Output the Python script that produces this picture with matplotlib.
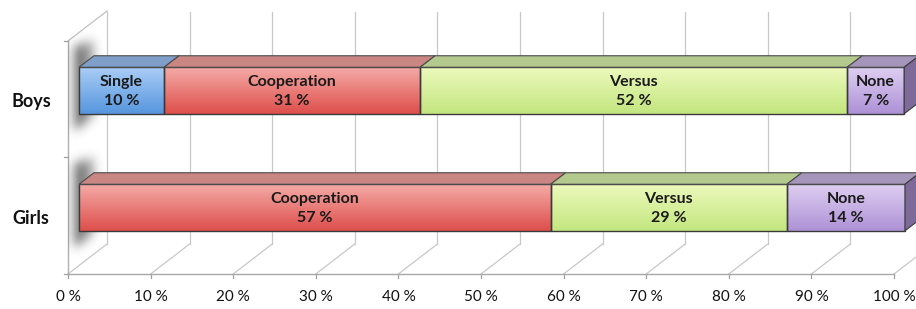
import numpy as np
import matplotlib
matplotlib.use("Agg")
import matplotlib.pyplot as plt
from matplotlib.patches import Polygon
from matplotlib.colors import LinearSegmentedColormap

# data
categories = ['Girls', 'Boys']
series = ['Single', 'Cooperation', 'Versus', 'None']
values = {
    'Boys':  [10.3, 31.0, 51.7, 6.9],
    'Girls': [0.0, 57.1, 28.6, 14.3],
}
xticks = [0, 10, 20, 30, 40, 50, 60, 70, 80, 90, 100]

# colours: (front top, front bottom, top face, side face)
colors = {
    'Single':      ('#aacdf6', '#5696de', '#7f9fca', '#5a7cab'),
    'Cooperation': ('#f4aaa7', '#de4f4b', '#c98682', '#a9504c'),
    'Versus':      ('#ecf9bc', '#c3e67f', '#b4c98d', '#93b35a'),
    'None':        ('#dfcff2', '#ad91d6', '#a595bb', '#7d6a99'),
}

plt.rcParams['font.family'] = ['Lato', 'DejaVu Sans']

W, H = 916, 309
fig = plt.figure(figsize=(W / 100, H / 100), dpi=100)
ax = fig.add_axes([0, 0, 1, 1])

# scale: pixel geometry of the oblique "3D" look
PXX = 8.26     # px per percent
PXY = 117.0    # px per category
x0px, ycpx = 68, 207.5   # pixel of 0 % and of Girls centre
ax.set_xlim(-x0px / PXX, (W - x0px) / PXX)
ax.set_ylim(1 - (H - ycpx) / PXY, 1 + ycpx / PXY)
ax.axis('off')


def dx(p):
    return p / PXX


def dy(p):
    return p / PXY


floor = 1 - dy(274 - ycpx)
wall_top = 1 + dy(ycpx - 41)
depth = (dx(39), dy(30))
grid_col = '#c8c8c8'

# back wall gridlines + floor diagonals
for t in xticks:
    ax.plot([t + depth[0]] * 2, [floor + depth[1], wall_top + depth[1] - dy(1)],
            color=grid_col, lw=0.9, zorder=1)
    ax.plot([t, t + depth[0]], [floor, floor + depth[1]], color=grid_col, lw=0.9, zorder=1)
    ax.plot([t, t], [floor, floor - dy(4)], color='#a0a0a0', lw=0.9, zorder=1)
    ax.text(t, floor - dy(23), f'{t} %', ha='center', va='center', fontsize=11,
            color='#111111')
ax.plot([0, 100], [floor, floor], color='#a8a8a8', lw=1.0, zorder=1)
ax.plot([0, 0], [floor, wall_top], color='#b0b0b0', lw=1.0, zorder=1)
ax.plot([0, depth[0]], [wall_top, wall_top + depth[1]], color='#c0c0c0', lw=0.9, zorder=1)
band = (wall_top - floor) / 2
for k in range(3):
    yy = floor + k * band
    ax.plot([0, -dx(4)], [yy, yy], color='#a0a0a0', lw=0.9, zorder=1)


def gauss_blur(a, sigma):
    r = int(3 * sigma)
    k = np.exp(-0.5 * (np.arange(-r, r + 1) / sigma) ** 2)
    k /= k.sum()
    a = np.apply_along_axis(lambda m: np.convolve(m, k, mode='same'), 0, a)
    a = np.apply_along_axis(lambda m: np.convolve(m, k, mode='same'), 1, a)
    return a


# bars
off = (dx(11), dy(8.5))
thick = (dx(15), dy(11.5))
bh = dy(46.5)
grad = np.linspace(0, 1, 64).reshape(-1, 1)

for ci, cat in enumerate(categories):
    yc = 1 + ci
    yb, yt = yc - bh / 2, yc + bh / 2
    # soft shadow on the left wall (pixel grid, y down from bar centre)
    gx = np.arange(0, 40)
    gy = np.arange(-80, 80)
    X, Y = np.meshgrid(gx, gy)
    mask = (X >= 6) & (X <= 26) & (Y > -44 - (X - 6) * 0.3) & (Y < 40 - (X - 6) * 0.7)
    sh = gauss_blur(mask.astype(float), 5.5)
    sh *= np.clip(1.15 - (X - 6) / 30, 0, 1)
    rgba = np.zeros(sh.shape + (4,))
    rgba[..., :3] = 0.25
    rgba[..., 3] = np.clip(sh * 0.75, 0, 1)
    ax.imshow(rgba, extent=[dx(0), dx(40), yc - dy(80), yc + dy(80)], origin='upper',
              aspect='auto', zorder=2, interpolation='bilinear')
    left = off[0]
    vals = values[cat]
    for si, name in enumerate(series):
        v = vals[si]
        if v <= 0:
            continue
        ctop, cbot, cface, cside = colors[name]
        x1, x2 = left, left + v
        cmap = LinearSegmentedColormap.from_list(name, [cbot, ctop])
        ax.imshow(grad, extent=[x1, x2, yb, yt], cmap=cmap, aspect='auto',
                  origin='lower', zorder=3, interpolation='bilinear')
        ax.add_patch(Polygon([(x1, yb), (x2, yb), (x2, yt), (x1, yt)], closed=True,
                             fc='none', ec='#3a3a3a', lw=1.0, zorder=4))
        ax.add_patch(Polygon([(x1, yt), (x2, yt), (x2 + thick[0], yt + thick[1]),
                              (x1 + thick[0], yt + thick[1])], closed=True,
                             fc=cface, ec='#4a4a4a', lw=0.8, zorder=4))
        if si == len(series) - 1:
            ax.add_patch(Polygon([(x2, yb), (x2 + thick[0], yb + thick[1]),
                                  (x2 + thick[0], yt + thick[1]), (x2, yt)], closed=True,
                                 fc=cside, ec='#3a3a3a', lw=0.8, zorder=4))
        ax.text((x1 + x2) / 2, yc - dy(1), f'{name}\n{round(v)} %', ha='center',
                va='center', fontsize=11.5, fontweight='bold', color='#1a1a1a',
                linespacing=1.4, zorder=5)
        left = x2
    ax.text(-dx(37), yc - dy(11), cat, ha='center', va='center', fontsize=13,
            fontweight='bold', color='#111111')

fig.savefig('out.png', dpi=100)
